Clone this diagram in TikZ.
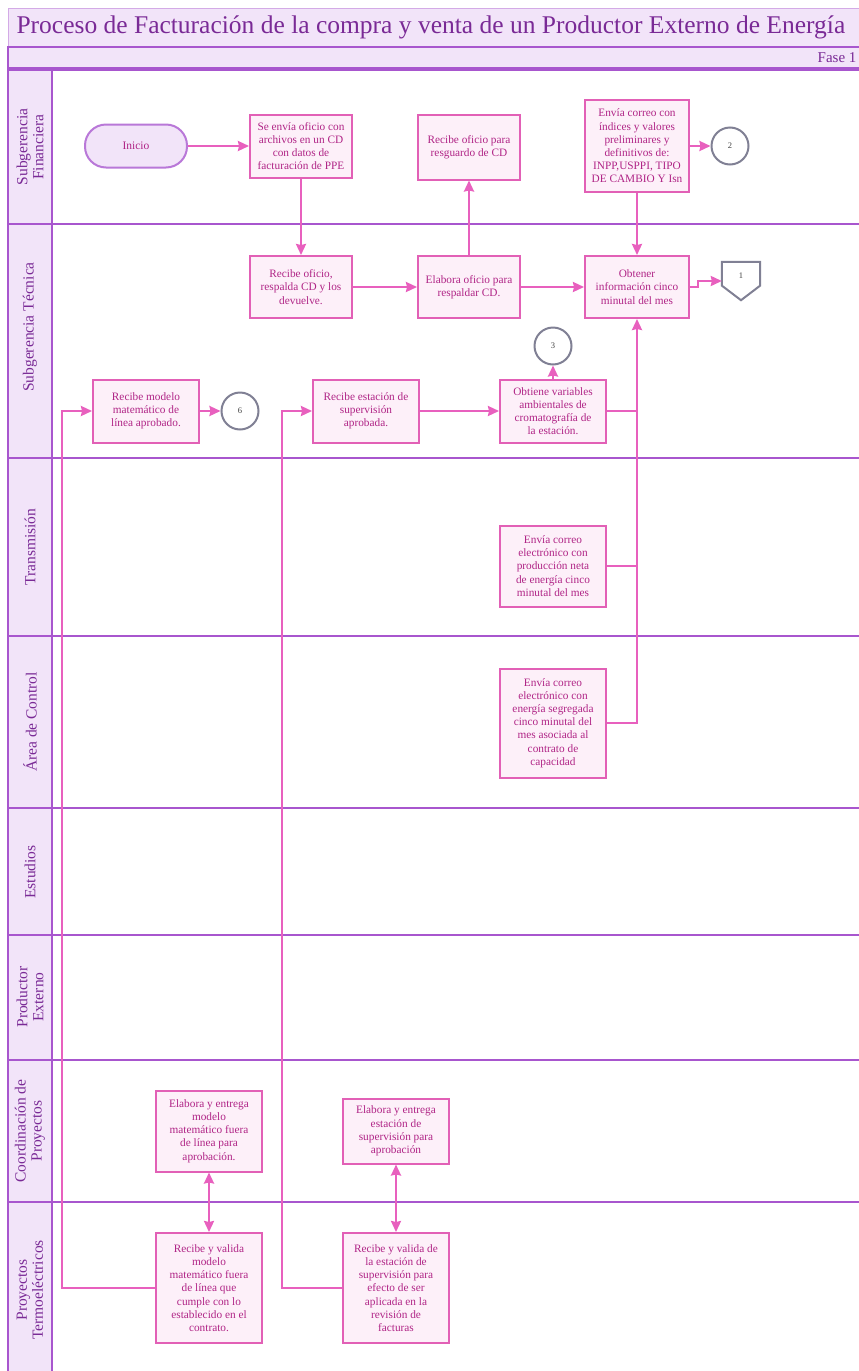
\documentclass[tikz,border=0pt]{standalone}
\usepackage{fontspec}
\setmainfont{Liberation Serif}
\usepackage{xcolor}
\definecolor{lnpurple}{RGB}{168,86,206}
\definecolor{lnfill}{RGB}{242,228,249}
\definecolor{lntext}{RGB}{122,42,150}
\definecolor{bxdraw}{RGB}{226,96,182}
\definecolor{bxfill}{RGB}{253,240,249}
\definecolor{bxtext}{RGB}{176,36,134}
\definecolor{arpink}{RGB}{232,96,190}
\definecolor{cgray}{RGB}{128,128,148}
\usetikzlibrary{arrows.meta,positioning,calc}

\begin{document}
\begin{tikzpicture}[x=1pt, y=-1pt,
  pbox/.style={rectangle, draw=bxdraw, line width=2pt, fill=bxfill,
               text=bxtext, align=center, inner sep=2pt,
               font=\fontsize{11.3}{13.2}\selectfont},
  term/.style={rectangle, rounded corners=21pt, draw=lnpurple!80, line width=2pt,
               fill=lnfill, text=bxtext, minimum width=102pt, minimum height=43pt,
               font=\fontsize{11.5}{13}\selectfont},
  conn/.style={circle, draw=cgray, line width=2pt, fill=white,
               minimum size=37pt, inner sep=0pt, text=black!75,
               font=\fontsize{8.5}{9}\selectfont},
  lanelbl/.style={rectangle, draw=lnpurple, line width=1.6pt, fill=lnfill},
  lanetxt/.style={rotate=90, align=center, text=lntext,
                  font=\fontsize{15.5}{16}\selectfont},
  laneln/.style={draw=lnpurple, line width=2.6pt},
  arr/.style={-{Stealth[length=11pt, width=10pt, inset=1pt]}, draw=arpink, line width=2.2pt},
  darr/.style={{Stealth[length=11pt, width=10pt, inset=1pt]}-{Stealth[length=11pt, width=10pt, inset=1pt]},
               draw=arpink, line width=2.2pt},
  ln/.style={draw=arpink, line width=2.2pt}
]
\useasboundingbox (0,0) rectangle (859,1371);

% Title and phase bands
\filldraw[fill=lnfill, draw=lnpurple!50, line width=1pt] (8,8) rectangle (862,46);
\node[anchor=west, text=lntext, font=\fontsize{25.5}{28}\selectfont] (title) at (13,27)
  {Proceso de Facturación de la compra y venta de un Productor Externo de Energía};
\filldraw[fill=lnfill, draw=lnpurple, line width=1.8pt] (8,47) rectangle (862,68);
\node[anchor=east, text=lntext, font=\fontsize{15}{16}\selectfont] (fase) at (860,58) {Fase 1};

% Lanes
\draw[laneln] (8,70) -- (862,70);
\draw[laneln] (8,224) -- (862,224);
\draw[laneln] (8,458) -- (862,458);
\draw[laneln] (8,636) -- (862,636);
\draw[laneln] (8,808) -- (862,808);
\draw[laneln] (8,935) -- (862,935);
\draw[laneln] (8,1060) -- (862,1060);
\draw[laneln] (8,1202) -- (862,1202);

\filldraw[lanelbl] (8,70)   rectangle (52,224);
\filldraw[lanelbl] (8,224)  rectangle (52,458);
\filldraw[lanelbl] (8,458)  rectangle (52,636);
\filldraw[lanelbl] (8,636)  rectangle (52,808);
\filldraw[lanelbl] (8,808)  rectangle (52,935);
\filldraw[lanelbl] (8,935)  rectangle (52,1060);
\filldraw[lanelbl] (8,1060) rectangle (52,1202);
\filldraw[lanelbl] (8,1202) rectangle (52,1380);

\node[lanetxt] (lsf) at (30,147)  {Subgerencia\\Financiera};
\node[lanetxt] (lst) at (30,327)  {Subgerencia Técnica};
\node[lanetxt] (ltr) at (30,547)  {Transmisión};
\node[lanetxt] (lac) at (30,722)  {Área de Control};
\node[lanetxt] (les) at (30,872)  {Estudios};
\node[lanetxt] (lpe) at (30,997)  {Productor\\Externo};
\node[lanetxt] (lcp) at (30,1131) {Coordinación de\\Proyectos};
\node[lanetxt] (lpt) at (30,1290) {Proyectos\\Termoeléctricos};

% Subgerencia Financiera
\node[term] (inicio) at (136,146) {Inicio};
\node[pbox, minimum width=102pt, minimum height=63pt] (envia) at (301,146)
  {Se envía oficio con\\archivos en un CD\\con datos de\\facturación de PPE};
\node[pbox, minimum width=102pt, minimum height=65pt] (resguardo) at (469,147)
  {Recibe oficio para\\resguardo de CD};
\node[pbox, minimum width=104pt, minimum height=92pt] (indices) at (637,146)
  {Envía correo con\\índices y valores\\preliminares y\\definitivos de:\\INPP,USPPI, TIPO\\DE CAMBIO Y Isn};
\node[conn] (c2) at (730,146) {2};

% Subgerencia Tecnica
\node[pbox, minimum width=102pt, minimum height=62pt] (respalda) at (301,287)
  {Recibe oficio,\\respalda CD y los\\devuelve.};
\node[pbox, minimum width=102pt, minimum height=62pt] (elabora) at (469,287)
  {Elabora oficio para\\respaldar CD.};
\node[pbox, minimum width=104pt, minimum height=62pt] (obtener) at (637,287)
  {Obtener\\información cinco\\minutal del mes};
\node[minimum width=38pt, minimum height=38pt, inner sep=0pt] (off1) at (741,281) {};
\draw[draw=cgray, line width=2pt, fill=white]
  (off1.north west) -- (off1.north east) -- ($(off1.south east)!0.38!(off1.north east)$)
  -- (off1.south) -- ($(off1.south west)!0.38!(off1.north west)$) -- cycle;
\node[text=black!75, font=\fontsize{8.5}{9}\selectfont] (off1txt) at (741,276) {1};

\node[pbox, minimum width=106pt, minimum height=63pt] (modelo) at (146,411)
  {Recibe modelo\\matemático de\\línea aprobado.};
\node[conn] (c6) at (240,411) {6};
\node[pbox, minimum width=106pt, minimum height=63pt] (estacion) at (366,411)
  {Recibe estación de\\supervisión\\aprobada.};
\node[pbox, minimum width=106pt, minimum height=63pt] (variables) at (553,411)
  {Obtiene variables\\ambientales de\\cromatografía de\\la estación.};
\node[conn] (c3) at (553,346) {3};

% Transmision and Area de Control
\node[pbox, minimum width=106pt, minimum height=81pt] (neta) at (553,566)
  {Envía correo\\electrónico con\\producción neta\\de energía cinco\\minutal del mes};
\node[pbox, minimum width=106pt, minimum height=109pt] (segregada) at (553,723)
  {Envía correo\\electrónico con\\energía segregada\\cinco minutal del\\mes asociada al\\contrato de\\capacidad};

% Coordinacion de Proyectos
\node[pbox, minimum width=106pt, minimum height=81pt] (entmodelo) at (209,1131)
  {Elabora y entrega\\modelo\\matemático fuera\\de línea para\\aprobación.};
\node[pbox, minimum width=106pt, minimum height=65pt] (entestacion) at (396,1131)
  {Elabora y entrega\\estación de\\supervisión para\\aprobación};

% Proyectos Termoelectricos
\node[pbox, minimum width=106pt, minimum height=110pt] (valmodelo) at (209,1288)
  {Recibe y valida\\modelo\\matemático fuera\\de línea que\\cumple con lo\\establecido en el\\contrato.};
\node[pbox, minimum width=106pt, minimum height=110pt] (valestacion) at (396,1288)
  {Recibe y valida de\\la estación de\\supervisión para\\efecto de ser\\aplicada en la\\revisión de\\facturas};

% Arrows
\draw[arr] (inicio) -- (envia);
\draw[arr] (envia) -- (respalda);
\draw[arr] (respalda) -- (elabora);
\draw[arr] (elabora) -- (resguardo);
\draw[arr] (elabora) -- (obtener);
\draw[arr] (indices) -- (obtener);
\draw[arr] (indices) -- (c2);
\draw[arr] (obtener.east) -- ++(8,0) |- (off1.west);
\draw[arr] (modelo) -- (c6);
\draw[arr] (estacion) -- (variables);
\draw[arr] (variables) -- (c3);
\draw[ln]  (variables.east) -- (variables.east -| obtener.south);
\draw[ln]  (neta.east) -- (neta.east -| obtener.south);
\draw[arr] (segregada.east) -| (obtener.south);
\draw[darr] (entmodelo) -- (valmodelo);
\draw[darr] (entestacion) -- (valestacion);
\draw[arr] (valmodelo.west) -- ++(-93,0) |- (modelo.west);
\draw[arr] (valestacion.west) -- ++(-60,0) |- (estacion.west);
\end{tikzpicture}
\end{document}
